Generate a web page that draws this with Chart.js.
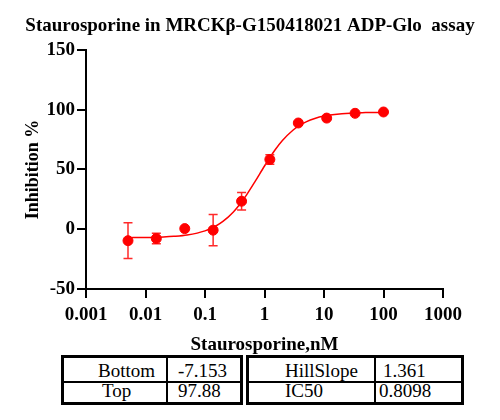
<!DOCTYPE html>
<html><head><meta charset="utf-8">
<script src="https://cdn.jsdelivr.net/npm/chart.js@4"></script>
<style>
html,body{margin:0;padding:0;background:#fff;width:500px;height:420px;overflow:hidden;}
#c{position:absolute;left:0;top:0;}
.tbl{position:absolute;border:3px solid #000;box-sizing:border-box;background:#fff;}
.cell{position:absolute;font:19px 'Liberation Serif','Times New Roman',serif;color:#000;line-height:22px;white-space:nowrap;}
.hl{position:absolute;left:0;right:0;height:2px;background:#000;}
.vl{position:absolute;top:0;bottom:0;width:2px;background:#000;}
</style></head>
<body>
<canvas id="c" width="500" height="360"></canvas>
<div class="tbl" style="left:61px;top:355px;width:182px;height:50px;">
  <div class="hl" style="top:23px"></div>
  <div class="vl" style="left:102px"></div>
  <div class="cell" style="left:34px;top:2px">Bottom</div>
  <div class="cell" style="left:38px;top:22px">Top</div>
  <div class="cell" style="left:114px;top:2px">-7.153</div>
  <div class="cell" style="left:114px;top:22px">97.88</div>
</div>
<div class="tbl" style="left:246px;top:355px;width:218px;height:50px;">
  <div class="hl" style="top:23px"></div>
  <div class="vl" style="left:125px"></div>
  <div class="cell" style="left:36px;top:2px">HillSlope</div>
  <div class="cell" style="left:36px;top:22px">IC50</div>
  <div class="cell" style="left:134px;top:2px">1.361</div>
  <div class="cell" style="left:130px;top:22px">0.8098</div>
</div>
<script>
const concentrations = [0.00508, 0.0152, 0.0457, 0.137, 0.412, 1.23, 3.70, 11.1, 33.3, 100];
const inhibitionMean = [-9.6, -7.8, 0.5, -0.8, 23.4, 58.3, 88.8, 92.9, 96.9, 98.0];
const inhibitionErr  = [14.9, 4.4, 0, 13.1, 7.3, 4.0, 0, 0, 0, 0];
const fitX = [0.005, 0.01, 0.02, 0.03, 0.05, 0.1, 0.15, 0.2, 0.3, 0.4, 0.5, 0.7, 1, 1.5, 2, 3, 4, 5, 7, 10, 20, 50, 100];
const fitY = [-7.05, -6.89, -6.48, -5.98, -4.83, -1.39, 2.46, 6.47, 14.45, 21.93, 28.72, 40.18, 52.85, 66.18, 74.14, 82.76, 87.16, 89.75, 92.58, 94.56, 96.56, 97.49, 97.73];
const xTickValues = [0.001, 0.01, 0.1, 1, 10, 100, 1000];
const yTickValues = [-50, 0, 50, 100, 150];

const RED = '#ff0000';

const errorBars = {
  id: 'errorBars',
  afterDatasetDraw(chart, args) {
    if (args.index !== 1) return;
    const {ctx, scales: {x, y}} = chart;
    ctx.save();
    ctx.strokeStyle = '#ff2a2a';
    ctx.lineWidth = 1.5;
    concentrations.forEach((c, i) => {
      const e = inhibitionErr[i];
      if (!e) return;
      const px = x.getPixelForValue(c);
      const top = y.getPixelForValue(inhibitionMean[i] + e);
      const bot = y.getPixelForValue(inhibitionMean[i] - e);
      const hw = 4.5;
      ctx.beginPath();
      ctx.moveTo(px, top); ctx.lineTo(px, bot);
      ctx.moveTo(px - hw, top); ctx.lineTo(px + hw, top);
      ctx.moveTo(px - hw, bot); ctx.lineTo(px + hw, bot);
      ctx.stroke();
    });
    ctx.restore();
  }
};

Chart.defaults.font.family = "'Liberation Serif','Times New Roman',serif";
Chart.defaults.color = '#000';

new Chart(document.getElementById('c'), {
  type: 'scatter',
  data: {
    datasets: [
      {
        data: concentrations.map((c, i) => ({x: c, y: inhibitionMean[i]})),
        backgroundColor: RED, borderColor: RED,
        pointRadius: 5, pointHoverRadius: 5, showLine: false
      },
      {
        data: fitX.map((c, i) => ({x: c, y: fitY[i]})),
        borderColor: RED, borderWidth: 1.5, pointRadius: 0,
        showLine: true, cubicInterpolationMode: 'monotone', fill: false
      }
    ]
  },
  options: {
    responsive: false,
    animation: false,
    devicePixelRatio: 1,
    layout: {padding: {left: 0, right: 0, top: 0, bottom: 1}},
    plugins: {
      legend: {display: false},
      tooltip: {enabled: false},
      title: {
        display: true,
        text: 'Staurosporine in MRCK\u03b2-G150418021 ADP-Glo  assay',
        font: {size: 19, weight: 'bold'},
        color: '#000',
        padding: {top: 15, bottom: 12}
      }
    },
    scales: {
      x: {
        type: 'logarithmic',
        min: 0.001, max: 1000,
        afterBuildTicks: (s) => { s.ticks = xTickValues.map(v => ({value: v})); },
        afterFit: (s) => { s.height = 70; },
        ticks: {
          font: {size: 19, weight: 'bold'}, color: '#000', padding: 6,
          maxRotation: 0, autoSkip: false,
          callback: (v) => String(v)
        },
        grid: {display: true, drawOnChartArea: false, drawTicks: true, tickLength: 9, color: '#000', lineWidth: 2},
        border: {display: true, color: '#000', width: 2},
        title: {display: true, text: 'Staurosporine,nM', font: {size: 19, weight: 'bold'}, color: '#000', padding: {top: 0, bottom: 3}}
      },
      y: {
        type: 'linear',
        min: -50, max: 150,
        afterBuildTicks: (s) => { s.ticks = yTickValues.map(v => ({value: v})); },
        afterFit: (s) => { s.width = 86; },
        ticks: {font: {size: 19, weight: 'bold'}, color: '#000', padding: 2, callback: (v) => String(v)},
        grid: {display: true, drawOnChartArea: false, drawTicks: true, tickLength: 9, color: '#000', lineWidth: 2},
        border: {display: true, color: '#000', width: 2},
        title: {display: true, text: 'Inhibition %', font: {size: 18, weight: 'bold'}, color: '#000', padding: {top: 23, bottom: 0}}
      },
      spacer: {
        type: 'linear',
        position: 'right',
        display: true,
        afterFit: (s) => { s.width = 57; },
        ticks: {display: false},
        grid: {display: false},
        border: {display: false}
      }
    }
  },
  plugins: [errorBars]
});
</script>
</body></html>
